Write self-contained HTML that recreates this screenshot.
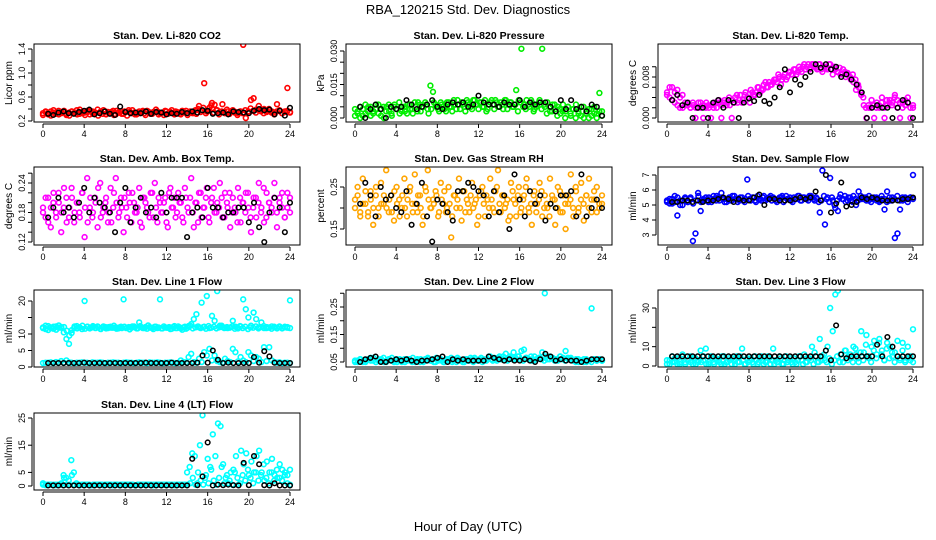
<!DOCTYPE html>
<html><head><meta charset="utf-8"><style>
html,body{margin:0;padding:0;background:#fff;}
svg{display:block;font-family:"Liberation Sans",Arial,sans-serif;}
</style></head><body>
<svg id="chart" width="936" height="540" viewBox="0 0 936 540" xmlns="http://www.w3.org/2000/svg">
<text x="468" y="14" text-anchor="middle" font-size="13">RBA_120215  Std. Dev. Diagnostics</text>
<text x="468" y="531" text-anchor="middle" font-size="13">Hour of Day (UTC)</text>
</svg>
<script>
const hourTicks = [0,4,8,12,16,20,24];
const titles = ["Stan. Dev. Li-820 CO2","Stan. Dev. Li-820 Pressure","Stan. Dev. Li-820 Temp.","Stan. Dev. Amb. Box Temp.","Stan. Dev. Gas Stream RH","Stan. Dev. Sample Flow","Stan. Dev. Line 1 Flow","Stan. Dev. Line 2 Flow","Stan. Dev. Line 3 Flow","Stan. Dev. Line 4 (LT) Flow"];
const yTitles = ["Licor ppm","kPa","degrees C","degrees C","percent","ml/min","ml/min","ml/min","ml/min","ml/min"];
const yTicks = [[0.2,0.4,0.6,0.8,1.0,1.2,1.4],[0,0.005,0.01,0.015,0.02,0.025,0.03],[0,0.002,0.004,0.006,0.008,0.01],[0.12,0.14,0.16,0.18,0.2,0.22,0.24,0.26],[0.15,0.2,0.25],[3,4,5,6,7],[0,5,10,15,20],[0.05,0.1,0.15,0.2,0.25,0.3],[0,10,20,30],[0,5,15,25]];
const yLabels = [["0.2","","0.6","","1.0","","1.4"],["0.000","","","0.015","","","0.030"],["0.000","","","","0.008",""],["0.12","","","0.18","","","0.24",""],["0.15","","0.25"],["3","4","5","6","7"],["0","5","10","","20"],["0.05","","0.15","","0.25",""],["0","10","","30"],["0","5","15","25"]];
const yDomains = [[0.2,1.4],[0,0.03],[0,0.008],[0.12,0.24],[0.15,0.25],[3,7],[0,20],[0.05,0.25],[0,30],[0,25]];

const co2Red = [0.33,0.35,0.31,0.36,0.34,0.32,0.37,0.33,0.35,0.30,0.34,0.36,0.33,0.38,0.32,0.35,0.34,0.37,0.31,0.36,0.33,0.39,0.34,0.32,0.36,0.35,0.33,0.37,0.31,0.34,0.36,0.32,0.35,0.38,0.33,0.34,0.31,0.36,0.35,0.33,0.37,0.34,0.32,0.35,0.36,0.33,0.34,0.37,0.32,0.35,0.33,0.36,0.34,0.31,0.35,0.37,0.33,0.34,0.36,0.32,0.45,0.38,0.83,0.36,0.42,0.50,0.47,0.38,0.35,0.48,0.33,0.36,0.34,0.38,0.35,0.33,0.36,1.47,0.25,0.36,0.55,0.58,0.39,0.45,0.37,0.40,0.35,0.38,0.36,0.34,0.48,0.37,0.33,0.36,0.75,0.35];
const co2Red2 = [0.30,0.36,0.33,0.29,0.38,0.34,0.31,0.35,0.37,0.32,0.29,0.36,0.34,0.31,0.39,0.33,0.30,0.35,0.37,0.32,0.34,0.29,0.36,0.38,0.31,0.33,0.35,0.30,0.37,0.34,0.32,0.36,0.29,0.35,0.38,0.31,0.34,0.33,0.37,0.30,0.36,0.32,0.35,0.39,0.31,0.34,0.30,0.36,0.33,0.38,0.31,0.35,0.32,0.37,0.34,0.30,0.36,0.33,0.38,0.40,0.35,0.42,0.33,0.37,0.46,0.34,0.38,0.31,0.36,0.35,0.39,0.32,0.37,0.34,0.30,0.36,0.33,0.38,0.35,0.41,0.37,0.34,0.39,0.36,0.33,0.37,0.40,0.34,0.31,0.36,0.38,0.33,0.35,0.37,0.34];
const co2Black = [0.32,0.30,0.34,0.36,0.33,0.32,0.35,0.37,0.39,0.31,0.33,0.36,0.32,0.30,0.44,0.35,0.33,0.34,0.33,0.36,0.32,0.35,0.34,0.31,0.33,0.32,0.35,0.33,0.36,0.34,0.38,0.37,0.32,0.33,0.34,0.31,0.36,0.35,0.34,0.33,0.37,0.40,0.38,0.39,0.31,0.37,0.29,0.42];
const presGreen = [0.004,0.002,0.005,0.001,0.006,0.003,0.005,0.002,0.004,0.006,0.001,0.005,0.003,0.006,0.002,0.005,0.004,0.007,0.003,0.005,0.002,0.006,0.004,0.007,0.003,0.006,0.005,0.007,0.004,0.0145,0.0117,0.006,0.004,0.007,0.005,0.003,0.007,0.005,0.008,0.004,0.006,0.007,0.005,0.008,0.006,0.004,0.008,0.006,0.007,0.005,0.008,0.004,0.007,0.006,0.008,0.005,0.007,0.004,0.008,0.006,0.007,0.005,0.0125,0.008,0.031,0.006,0.008,0.005,0.007,0.004,0.006,0.008,0.031,0.005,0.007,0.003,0.006,0.004,0.005,0.002,0.006,0.003,0.005,0.001,0.004,0.006,0.002,0.005,0.000,0.003,0.004,0.001,0.005,0.002,0.0112,0.003];
const presGreen2 = [0.001,0.003,0.000,0.004,0.002,0.005,0.001,0.003,0.006,0.002,0.004,0.000,0.005,0.003,0.001,0.006,0.004,0.002,0.005,0.003,0.006,0.004,0.002,0.005,0.007,0.003,0.005,0.006,0.002,0.004,0.007,0.005,0.003,0.006,0.004,0.007,0.005,0.003,0.006,0.008,0.004,0.006,0.003,0.007,0.005,0.008,0.006,0.004,0.007,0.005,0.003,0.006,0.008,0.004,0.007,0.005,0.006,0.008,0.004,0.007,0.005,0.006,0.003,0.007,0.005,0.004,0.006,0.008,0.003,0.005,0.007,0.004,0.006,0.002,0.005,0.003,0.006,0.001,0.004,0.003,0.000,0.005,0.002,0.004,0.000,0.003,0.001,0.005,0.002,0.000,0.004,0.002,0.000,0.003,0.001];
const presBlack = [0.005,0.0,0.004,0.006,0.004,0.0,0.005,0.004,0.005,0.008,0.006,0.004,0.005,0.006,0.008,0.005,0.004,0.006,0.007,0.006,0.007,0.005,0.006,0.010,0.007,0.006,0.006,0.005,0.007,0.006,0.006,0.008,0.005,0.007,0.006,0.007,0.007,0.005,0.003,0.008,0.004,0.008,0.004,0.005,0.003,0.006,0.005,0.001];
const tempMagenta = [0.005,0.004,0.006,0.003,0.0055,0.002,0.0045,0.003,0.0025,0.002,0.003,0.0,0.002,0.003,0.0,0.002,0.0025,0.0,0.002,0.003,0.0035,0.0,0.003,0.0025,0.004,0.0,0.003,0.0045,0.0035,0.003,0.0045,0.004,0.003,0.005,0.0045,0.006,0.005,0.0055,0.007,0.006,0.0065,0.007,0.0075,0.0085,0.0065,0.008,0.0075,0.009,0.0085,0.0095,0.0085,0.01,0.009,0.0105,0.01,0.0095,0.0105,0.01,0.0095,0.0105,0.009,0.01,0.0095,0.0105,0.0085,0.0095,0.009,0.0085,0.0095,0.008,0.0085,0.0075,0.007,0.0055,0.006,0.0045,0.0025,0.0,0.002,0.0035,0.0,0.003,0.002,0.004,0.0,0.0025,0.0035,0.003,0.0045,0.002,0.0,0.003,0.0025,0.004,0.0,0.002];
const tempMagenta2 = [0.0045,0.006,0.0035,0.005,0.0025,0.004,0.002,0.0025,0.003,0.002,0.0025,0.002,0.003,0.002,0.0025,0.003,0.002,0.0025,0.003,0.002,0.003,0.0025,0.0035,0.003,0.0025,0.0035,0.004,0.003,0.0045,0.0035,0.005,0.004,0.0055,0.0045,0.005,0.006,0.0055,0.0065,0.006,0.007,0.0065,0.0075,0.007,0.008,0.0075,0.0085,0.008,0.009,0.0085,0.0095,0.009,0.0095,0.01,0.0095,0.0105,0.0098,0.0105,0.0098,0.0105,0.0095,0.01,0.0098,0.0105,0.0095,0.01,0.009,0.0098,0.0085,0.009,0.0088,0.008,0.0085,0.0075,0.0065,0.005,0.004,0.002,0.0025,0.002,0.0025,0.002,0.0025,0.003,0.002,0.0035,0.003,0.0025,0.004,0.0035,0.003,0.002,0.0035,0.003,0.002,0.0025];
const tempBlack = [0.0035,0.0045,0.0025,0.003,0.0,0.002,0.002,0.0,0.003,0.0035,0.002,0.0035,0.003,0.0,0.003,0.0038,0.0033,0.0045,0.0033,0.0028,0.004,0.006,0.0095,0.005,0.0075,0.0065,0.008,0.009,0.0105,0.0098,0.0105,0.0095,0.01,0.008,0.0085,0.0075,0.0065,0.005,0.0,0.002,0.0025,0.002,0.002,0.0,0.002,0.0035,0.003,0.0];
const ambMagenta = [0.19,0.17,0.21,0.15,0.20,0.18,0.22,0.14,0.19,0.21,0.17,0.23,0.16,0.20,0.18,0.22,0.13,0.25,0.19,0.17,0.21,0.15,0.24,0.18,0.20,0.16,0.23,0.19,0.25,0.17,0.21,0.14,0.19,0.22,0.16,0.20,0.18,0.23,0.15,0.21,0.19,0.17,0.22,0.24,0.16,0.20,0.18,0.21,0.15,0.23,0.19,0.17,0.22,0.20,0.16,0.21,0.18,0.25,0.15,0.20,0.22,0.17,0.19,0.23,0.16,0.21,0.18,0.20,0.24,0.17,0.22,0.19,0.15,0.21,0.18,0.23,0.16,0.20,0.22,0.19,0.14,0.21,0.17,0.24,0.19,0.16,0.22,0.20,0.18,0.24,0.15,0.21,0.19,0.17,0.22,0.18];
const ambMagenta2 = [0.18,0.21,0.16,0.19,0.22,0.17,0.20,0.18,0.23,0.16,0.19,0.21,0.18,0.20,0.17,0.22,0.19,0.16,0.21,0.18,0.20,0.23,0.17,0.19,0.21,0.18,0.16,0.22,0.20,0.18,0.19,0.21,0.17,0.20,0.22,0.18,0.19,0.16,0.21,0.20,0.18,0.22,0.17,0.19,0.21,0.18,0.20,0.16,0.22,0.19,0.21,0.18,0.20,0.17,0.23,0.19,0.21,0.18,0.20,0.16,0.22,0.19,0.21,0.17,0.20,0.23,0.18,0.19,0.21,0.17,0.20,0.22,0.18,0.19,0.16,0.21,0.20,0.18,0.22,0.17,0.19,0.21,0.20,0.18,0.23,0.17,0.20,0.19,0.21,0.18,0.20,0.22,0.17,0.19,0.21];
const ambBlack = [0.17,0.19,0.21,0.18,0.19,0.17,0.20,0.23,0.18,0.21,0.20,0.19,0.18,0.14,0.20,0.23,0.16,0.19,0.21,0.18,0.19,0.17,0.22,0.18,0.21,0.21,0.21,0.13,0.18,0.19,0.17,0.23,0.19,0.19,0.17,0.18,0.18,0.19,0.19,0.16,0.20,0.15,0.12,0.18,0.21,0.19,0.14,0.20];
const rhOrange = [0.22,0.25,0.19,0.27,0.21,0.18,0.24,0.16,0.23,0.20,0.26,0.21,0.29,0.19,0.23,0.17,0.25,0.22,0.20,0.27,0.18,0.24,0.21,0.28,0.19,0.23,0.16,0.25,0.29,0.20,0.22,0.24,0.18,0.26,0.21,0.19,0.25,0.13,0.23,0.20,0.27,0.17,0.24,0.22,0.19,0.26,0.21,0.16,0.23,0.25,0.18,0.22,0.27,0.20,0.24,0.29,0.19,0.23,0.21,0.17,0.26,0.22,0.18,0.25,0.20,0.23,0.27,0.19,0.16,0.24,0.21,0.26,0.18,0.23,0.20,0.27,0.22,0.16,0.25,0.19,0.23,0.15,0.21,0.28,0.18,0.24,0.20,0.26,0.17,0.23,0.27,0.19,0.22,0.25,0.20,0.21];
const rhOrange2 = [0.20,0.23,0.18,0.21,0.24,0.19,0.22,0.20,0.25,0.18,0.21,0.23,0.20,0.22,0.19,0.24,0.21,0.18,0.23,0.20,0.22,0.25,0.19,0.21,0.23,0.20,0.18,0.24,0.22,0.20,0.21,0.23,0.19,0.22,0.24,0.20,0.21,0.18,0.23,0.22,0.20,0.24,0.19,0.21,0.23,0.20,0.22,0.18,0.24,0.21,0.23,0.20,0.22,0.19,0.25,0.21,0.23,0.20,0.22,0.18,0.24,0.21,0.23,0.19,0.22,0.25,0.20,0.21,0.23,0.19,0.22,0.24,0.20,0.21,0.18,0.23,0.22,0.20,0.24,0.19,0.21,0.23,0.22,0.20,0.25,0.19,0.22,0.21,0.23,0.20,0.22,0.24,0.19,0.21,0.23];
const rhBlack = [0.21,0.26,0.23,0.18,0.25,0.22,0.23,0.20,0.19,0.24,0.16,0.21,0.26,0.18,0.12,0.22,0.21,0.19,0.17,0.24,0.24,0.26,0.25,0.24,0.23,0.18,0.24,0.19,0.23,0.15,0.28,0.22,0.18,0.24,0.21,0.23,0.17,0.21,0.20,0.23,0.23,0.24,0.18,0.28,0.18,0.20,0.22,0.20];
const sampleBlue = [5.2,5.4,5.1,5.6,4.3,5.3,5.0,5.5,5.2,5.4,2.6,3.1,5.8,4.6,5.3,5.5,5.2,5.4,5.6,5.3,5.5,5.8,5.4,5.2,5.5,5.3,5.6,5.4,5.3,5.5,5.2,6.7,5.4,5.5,5.3,5.6,5.4,5.5,5.3,5.4,5.6,5.5,5.3,5.4,5.5,5.2,5.6,5.4,5.3,5.5,5.4,5.6,5.3,5.5,5.4,5.6,5.5,5.3,5.4,4.5,7.3,3.7,5.5,6.8,5.3,4.8,4.6,5.7,5.4,5.2,5.5,5.3,5.6,5.0,5.9,5.4,5.5,5.3,5.6,5.4,5.5,5.3,5.2,5.4,4.7,5.9,5.3,5.5,2.8,3.1,4.7,5.3,5.5,5.4,5.5,7.0];
const sampleBlue2 = [5.3,5.1,5.4,5.2,5.5,5.0,5.3,5.4,5.2,5.5,5.1,5.3,5.6,5.2,5.4,5.3,5.5,5.2,5.4,5.6,5.3,5.5,5.2,5.4,5.3,5.6,5.4,5.2,5.5,5.3,5.4,5.6,5.3,5.5,5.2,5.4,5.3,5.6,5.4,5.5,5.3,5.4,5.2,5.5,5.6,5.3,5.4,5.5,5.2,5.4,5.6,5.3,5.5,5.4,5.3,5.6,5.4,5.5,5.2,5.3,5.6,5.4,5.2,5.5,5.0,5.3,5.5,5.4,5.6,5.3,5.5,5.2,5.4,5.3,5.6,5.4,5.5,5.3,5.2,5.4,5.5,5.3,5.6,5.4,5.2,5.5,5.3,5.4,5.6,5.3,5.5,5.4,5.2,5.5,5.4];
const sampleBlack = [5.2,5.2,5.3,5.3,5.2,5.3,5.2,5.3,5.3,5.4,5.5,5.4,5.2,5.4,5.3,5.3,5.5,5.7,5.0,5.4,5.4,5.3,5.3,5.3,5.4,5.5,5.4,5.5,5.9,5.3,7.0,4.5,5.1,6.5,4.9,5.0,5.2,5.5,5.4,5.5,5.4,5.3,5.3,5.3,5.3,5.4,5.4,5.5];
const line1High = [11.8,12.5,11.2,12.0,11.6,12.3,11.9,12.1,10.5,8.5,7.0,10.3,11.8,12.4,12.0,11.5,20.0,12.2,11.7,12.0,11.9,12.3,11.6,12.0,12.1,11.8,12.2,11.9,12.0,11.7,12.2,20.5,11.8,12.1,11.9,12.3,11.7,13.5,12.0,11.8,11.6,12.1,11.9,12.2,11.8,20.5,11.7,12.0,11.9,11.5,12.1,11.8,12.3,11.7,12.0,11.6,12.4,13.0,14.5,16.0,12.0,19.5,12.2,21.5,11.8,15.5,14.0,23.0,12.5,12.1,11.9,11.8,12.0,14.0,12.2,11.7,12.3,20.5,17.5,15.0,12.5,16.5,14.5,12.0,13.5,11.8,12.1,11.9,12.3,12.0,11.7,12.1,11.8,12.2,11.9,20.2];
const line1High2 = [12.0,11.5,12.4,11.8,12.2,11.3,12.6,11.9,12.1,11.0,9.5,11.2,12.3,11.7,12.0,12.5,11.6,12.2,11.9,12.4,11.8,12.0,11.5,12.3,11.7,12.1,11.9,12.5,11.6,12.0,11.8,12.2,11.9,11.4,12.3,12.0,11.7,12.4,11.8,12.1,12.6,11.9,11.5,12.2,12.0,11.7,12.3,11.9,12.1,11.6,12.4,11.8,12.0,11.3,12.2,11.9,12.5,11.7,12.0,12.3,11.8,12.1,11.6,12.4,11.9,12.2,11.7,12.0,12.5,11.8,12.1,11.9,12.3,11.6,12.0,12.4,11.8,12.2,11.5,12.0,11.9,12.3,11.7,12.1,12.4,11.8,12.0,11.6,12.2,11.9,12.3,11.7,12.0,12.1,11.8];
const line1Low = [1.2,1.3,1.3,1.4,1.2,1.5,1.3,1.8,1.3,2.0,1.4,1.3,1.2,1.3,1.3,1.4,1.3,1.3,1.2,1.4,1.3,1.3,1.4,1.3,1.2,1.3,1.3,1.4,1.3,1.3,1.2,1.3,1.4,1.3,1.3,1.2,1.3,1.4,1.3,1.3,1.2,1.4,1.3,1.3,1.4,1.3,1.2,1.3,1.3,1.4,1.3,1.2,1.3,2.0,1.5,1.4,3.0,4.0,1.5,1.3,2.5,1.5,4.5,3.5,5.5,2.0,3.5,1.8,1.5,1.3,2.5,1.8,1.5,5.5,4.5,1.7,3.0,2.0,1.5,4.5,3.5,1.8,3.0,2.5,1.5,6.0,1.8,6.0,2.0,1.5,1.3,1.4,1.2,1.3,1.3,1.2];
const line1Black = [1.2,1.2,1.2,1.2,1.2,1.2,1.2,1.3,1.2,1.2,1.2,1.2,1.2,1.2,1.2,1.2,1.2,1.2,1.2,1.3,1.2,1.2,1.2,1.2,1.3,1.2,1.2,1.2,1.2,1.3,3.5,1.3,5.0,2.2,1.2,1.3,1.2,1.2,1.2,1.2,3.0,1.3,4.8,3.2,1.3,1.2,1.2,1.2];
const line2Cyan = [0.05,0.055,0.06,0.05,0.055,0.06,0.065,0.055,0.05,0.06,0.055,0.065,0.05,0.06,0.055,0.05,0.06,0.055,0.05,0.06,0.055,0.06,0.05,0.055,0.06,0.05,0.055,0.06,0.065,0.055,0.06,0.05,0.055,0.06,0.05,0.055,0.06,0.065,0.055,0.05,0.06,0.055,0.05,0.06,0.055,0.06,0.065,0.055,0.06,0.05,0.055,0.06,0.07,0.055,0.06,0.065,0.06,0.07,0.08,0.06,0.065,0.085,0.06,0.07,0.09,0.095,0.065,0.06,0.055,0.07,0.06,0.065,0.085,0.30,0.06,0.07,0.065,0.06,0.055,0.07,0.065,0.09,0.06,0.065,0.055,0.06,0.05,0.055,0.06,0.05,0.055,0.245,0.06,0.055,0.06,0.055];
const line2Cyan2 = [0.055,0.05,0.06,0.055,0.05,0.06,0.055,0.065,0.05,0.055,0.06,0.05,0.055,0.06,0.065,0.055,0.05,0.06,0.055,0.05,0.06,0.055,0.065,0.05,0.055,0.06,0.05,0.055,0.06,0.055,0.05,0.065,0.06,0.055,0.05,0.06,0.055,0.05,0.06,0.065,0.055,0.05,0.06,0.055,0.065,0.05,0.06,0.055,0.065,0.06,0.055,0.07,0.06,0.065,0.055,0.07,0.06,0.065,0.055,0.07,0.06,0.065,0.07,0.06,0.055,0.065,0.06,0.07,0.055,0.06,0.065,0.06,0.055,0.07,0.06,0.065,0.055,0.06,0.07,0.06,0.055,0.065,0.06,0.055,0.05,0.06,0.055,0.05,0.06,0.055,0.05,0.06,0.055,0.06,0.055];
const line2Black = [0.05,0.06,0.065,0.07,0.05,0.05,0.055,0.06,0.055,0.06,0.055,0.05,0.055,0.055,0.06,0.065,0.07,0.05,0.06,0.055,0.06,0.055,0.055,0.055,0.055,0.07,0.065,0.06,0.055,0.06,0.055,0.055,0.06,0.055,0.05,0.06,0.08,0.07,0.055,0.06,0.055,0.055,0.055,0.05,0.055,0.06,0.06,0.06];
const line3Cyan = [3,1,5,2,4,1,6,2,3,5,1,4,2,8,3,9,1,5,2,4,3,1,5,2,4,1,3,5,2,9,1,4,3,2,5,1,4,3,2,5,1,9,3,2,4,1,5,3,2,4,1,5,3,6,2,4,10,7,2,14,5,3,10,30,18,37,39,6,2,8,5,4,10,6,2,18,7,16,4,10,13,6,14,8,3,12,10,5,7,13,4,12,3,10,5,19];
const line3Cyan2 = [1,3,2,4,1,2,5,1,3,2,4,1,3,2,5,1,2,4,1,3,2,5,1,2,3,4,1,2,5,3,1,2,4,1,3,2,5,1,2,4,3,1,2,5,1,3,2,4,1,2,3,5,1,2,4,3,1,5,2,3,6,2,4,1,3,5,2,4,8,3,6,2,9,4,7,3,11,5,2,8,4,12,6,3,9,4,7,2,5,3,8,2,4,3,2];
const line3Black = [5,5,5,5,5,5,5,5,5,5,5,5,5,5,5,5,5,5,5,5,5,5,5,5,5,5,5,5,5,5,8,3,21,6,4,5,5,5,5,5,11,5,15,10,5,5,5,5];
const line4Cyan = [1,0.5,0.5,0.5,0.3,0.5,0.5,0.5,4,3,2,9.5,5,1,0.5,0.5,0.5,0.5,0.5,0.3,0.5,0.5,0.5,0.5,0.5,0.5,0.5,0.3,0.5,0.5,0.5,0.5,0.5,0.5,0.5,0.5,0.3,0.5,0.5,0.5,0.5,0.5,0.5,0.5,0.5,0.5,0.5,0.5,0.5,0.5,0.5,0.5,0.5,0.5,0.5,0.5,5,7,12,11,1,15,26,3,10,7,19,11,23,22,8,3,1,5,6,11,0.5,13,8,12,4,9,5,11,13,5,2,9,5,10,4,3,8,6,5,4,6];
const line4Cyan2 = [0.5,0.3,0.5,0.5,0.5,0.3,0.5,1,3,0.5,0.5,4,0.5,0.5,0.3,0.5,0.5,0.5,0.3,0.5,0.5,0.5,0.5,0.3,0.5,0.5,0.5,0.5,0.5,0.3,0.5,0.5,0.5,0.5,0.5,0.3,0.5,0.5,0.5,0.5,0.5,0.5,0.3,0.5,0.5,0.5,0.5,0.5,0.5,0.5,0.3,0.5,0.5,0.5,0.5,0.5,1,3,0.5,5,2,0.5,4,1,6,2,0.5,3,7,1,4,2,0.5,5,3,1,4,2,6,3,1,5,2,4,8,3,1,5,2,6,3,2,4,1,0.5];
const line4Black = [0.2,0.2,0.2,0.2,0.2,0.2,0.2,0.2,0.2,0.2,0.2,0.2,0.2,0.2,0.2,0.2,0.2,0.2,0.2,0.2,0.2,0.2,0.2,0.2,0.2,0.2,0.2,0.2,10,0.3,3.5,16,0.2,0.5,0.3,0.5,0.3,0.2,8.5,0.3,11,8,0.3,0.2,1,0.2,0.2,0.2];

const colorSeries = [[co2Red,co2Red2],[presGreen,presGreen2],[tempMagenta,tempMagenta2],[ambMagenta,ambMagenta2],[rhOrange,rhOrange2],[sampleBlue,sampleBlue2],[line1High,line1High2,line1Low],[line2Cyan,line2Cyan2],[line3Cyan,line3Cyan2],[line4Cyan,line4Cyan2]];
const blackSeries = [co2Black,presBlack,tempBlack,ambBlack,rhBlack,sampleBlack,line1Black,line2Black,line3Black,line4Black];
const colors = ["#ff0000","#00ee00","#ff00ff","#ff00ff","#ffa500","#0000ff","#00ffff","#00ffff","#00ffff","#00ffff"];

const svg = document.getElementById('chart');
const NS = 'http://www.w3.org/2000/svg';
const colX = [[34,300],[346,612],[658,923]];
const rowY = [[44,122],[167,245],[290,367],[413,490]];
const yPix = [[121,49],[118,51],[118,77],[242,183],[229,187],[235,175],[367,301],[362,307],[366,308],[486,418]];
function mk(tag, attrs, parent){const e=document.createElementNS(NS,tag);for(const k in attrs)e.setAttribute(k,attrs[k]);(parent||svg).appendChild(e);return e;}

for (let p=0;p<10;p++){
  const c=p%3, r=Math.floor(p/3);
  const [x0,x1]=colX[c], [y0,y1]=rowY[r];
  const g=mk('g',{});
  
  
  const xs=h=>x0+9+(h/24)*(x1-x0-19);
  const [d0,d1]=yDomains[p], [p0,p1]=yPix[p];
  const ys=v=>p0+(v-d0)/(d1-d0)*(p1-p0);
  const clip='clip'+p;
  const cp=mk('clipPath',{id:clip},g); mk('rect',{x:x0,y:y0,width:x1-x0,height:y1-y0},cp);
  const pts=mk('g',{'clip-path':'url(#'+clip+')'},g);
  colorSeries[p].forEach(arr=>{
    arr.forEach((v,i)=>{
      const ci=mk('circle',{cx:xs(i*24/(arr.length-1)),cy:ys(v),r:2.4,fill:'none',stroke:colors[p],'stroke-width':1.6},pts);
      
      
    });
  });
  const bs=blackSeries[p];
  bs.forEach((v,i)=>{
    const ci=mk('circle',{cx:xs((i+1)*24/bs.length),cy:ys(v),r:2.3,fill:'none',stroke:'#000','stroke-width':1.5},pts);
    
    
  });
  const box=mk('rect',{x:x0,y:y0,width:x1-x0,height:y1-y0,fill:'none',stroke:'#000','stroke-width':1},g);
  
  
  const t=mk('text',{x:(x0+x1)/2,y:y0-5,'text-anchor':'middle','font-size':10.5,'font-weight':'bold'},g);
  t.textContent=titles[p];
  
  
  mk('line',{x1:xs(0),x2:xs(24),y1:y1+2,y2:y1+2,stroke:'#000'},g);
  hourTicks.forEach(h=>{
    mk('line',{x1:xs(h),x2:xs(h),y1:y1+2,y2:y1+6,stroke:'#000'},g);
    const tl=mk('text',{x:xs(h),y:y1+15,'text-anchor':'middle','font-size':9},g);
    tl.textContent=h;
    
    
  });
  const tv=yTicks[p];
  mk('line',{x1:x0-2,x2:x0-2,y1:ys(tv[0]),y2:ys(tv[tv.length-1]),stroke:'#000'},g);
  tv.forEach((v,i)=>{
    mk('line',{x1:x0-6,x2:x0-2,y1:ys(v),y2:ys(v),stroke:'#000'},g);
    if(yLabels[p][i]){
      const yl=mk('text',{x:0,y:0,'text-anchor':'middle','font-size':9,transform:'translate('+(x0-9)+','+ys(v)+') rotate(-90)'},g);
      yl.textContent=yLabels[p][i];
      
      
    }
  });
  const yt=mk('text',{x:0,y:0,'text-anchor':'middle','font-size':10,transform:'translate('+(x0-22)+','+((y0+y1)/2)+') rotate(-90)'},g);
  yt.textContent=yTitles[p];
  
  
}
</script>
</body></html>
